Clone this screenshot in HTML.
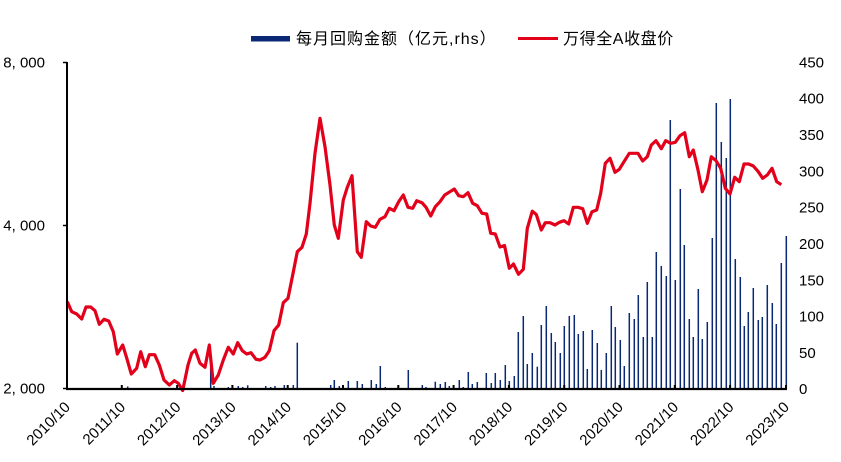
<!DOCTYPE html>
<html><head><meta charset="utf-8"><style>
html,body{margin:0;padding:0;background:#fff;}
svg{display:block;}
text{font-family:"Liberation Sans",Arial,sans-serif;font-size:15px;fill:#000;}
.lg{font-family:"Liberation Sans","Noto Sans CJK SC",sans-serif;font-size:16px;}
</style></head><body>
<svg width="841" height="462" viewBox="0 0 841 462" xmlns="http://www.w3.org/2000/svg">
<rect width="841" height="462" fill="#fff"/>
<rect x="251" y="36" width="39" height="5.5" fill="#0a2874"/>
<text class="lg" x="296" y="44" letter-spacing="1">每月回购金额（亿元,rhs）</text>
<line x1="518" y1="38.5" x2="558" y2="38.5" stroke="#e2001a" stroke-width="3"/>
<text class="lg" x="563" y="44" letter-spacing="0.6">万得全A收盘价</text>
<g stroke="#0a2874" stroke-width="1.5">
<line x1="127.7" y1="388" x2="127.7" y2="386.5"/>
<line x1="210.7" y1="388" x2="210.7" y2="356"/>
<line x1="214" y1="388" x2="214" y2="386"/>
<line x1="228.3" y1="388" x2="228.3" y2="387"/>
<line x1="238.3" y1="388" x2="238.3" y2="386"/>
<line x1="242.7" y1="388" x2="242.7" y2="387"/>
<line x1="247.7" y1="388" x2="247.7" y2="385.3"/>
<line x1="265.7" y1="388" x2="265.7" y2="386"/>
<line x1="270.7" y1="388" x2="270.7" y2="387"/>
<line x1="275" y1="388" x2="275" y2="386"/>
<line x1="284.3" y1="388" x2="284.3" y2="385"/>
<line x1="293.3" y1="388" x2="293.3" y2="385"/>
<line x1="297.3" y1="388" x2="297.3" y2="342.7"/>
<line x1="330.7" y1="388" x2="330.7" y2="385"/>
<line x1="334.3" y1="388" x2="334.3" y2="380"/>
<line x1="339.3" y1="388" x2="339.3" y2="386"/>
<line x1="348.3" y1="388" x2="348.3" y2="381"/>
<line x1="357.3" y1="388" x2="357.3" y2="381"/>
<line x1="362.3" y1="388" x2="362.3" y2="384"/>
<line x1="371.3" y1="388" x2="371.3" y2="380"/>
<line x1="376.3" y1="388" x2="376.3" y2="384"/>
<line x1="380.3" y1="388" x2="380.3" y2="366"/>
<line x1="385.3" y1="388" x2="385.3" y2="387"/>
<line x1="408.3" y1="388" x2="408.3" y2="370"/>
<line x1="422.3" y1="388" x2="422.3" y2="385"/>
<line x1="426" y1="388" x2="426" y2="387"/>
<line x1="435.3" y1="388" x2="435.3" y2="381.7"/>
<line x1="440.3" y1="388" x2="440.3" y2="384"/>
<line x1="445.3" y1="388" x2="445.3" y2="382"/>
<line x1="449.3" y1="388" x2="449.3" y2="386"/>
<line x1="459.3" y1="388" x2="459.3" y2="380"/>
<line x1="463.3" y1="388" x2="463.3" y2="387"/>
<line x1="468.3" y1="388" x2="468.3" y2="372"/>
<line x1="472.3" y1="388" x2="472.3" y2="384"/>
<line x1="477.3" y1="388" x2="477.3" y2="382"/>
<line x1="486.3" y1="388" x2="486.3" y2="373"/>
<line x1="491.3" y1="388" x2="491.3" y2="383"/>
<line x1="495.3" y1="388" x2="495.3" y2="373"/>
<line x1="500.3" y1="388" x2="500.3" y2="380"/>
<line x1="505.3" y1="388" x2="505.3" y2="365"/>
<line x1="509.3" y1="388" x2="509.3" y2="381"/>
<line x1="514.3" y1="388" x2="514.3" y2="376"/>
<line x1="518.3" y1="388" x2="518.3" y2="332"/>
<line x1="523.3" y1="388" x2="523.3" y2="316"/>
<line x1="527.3" y1="388" x2="527.3" y2="364"/>
<line x1="532.3" y1="388" x2="532.3" y2="353"/>
<line x1="537.3" y1="388" x2="537.3" y2="366.7"/>
<line x1="541.3" y1="388" x2="541.3" y2="325"/>
<line x1="546.3" y1="388" x2="546.3" y2="306"/>
<line x1="551.3" y1="388" x2="551.3" y2="333"/>
<line x1="555.3" y1="388" x2="555.3" y2="342"/>
<line x1="560.3" y1="388" x2="560.3" y2="353"/>
<line x1="564.3" y1="388" x2="564.3" y2="326"/>
<line x1="569.3" y1="388" x2="569.3" y2="316"/>
<line x1="574.3" y1="388" x2="574.3" y2="315"/>
<line x1="578.3" y1="388" x2="578.3" y2="334"/>
<line x1="583.3" y1="388" x2="583.3" y2="331"/>
<line x1="587.3" y1="388" x2="587.3" y2="369"/>
<line x1="592.3" y1="388" x2="592.3" y2="330"/>
<line x1="597.3" y1="388" x2="597.3" y2="343"/>
<line x1="601.3" y1="388" x2="601.3" y2="370"/>
<line x1="606.3" y1="388" x2="606.3" y2="353"/>
<line x1="611.3" y1="388" x2="611.3" y2="306"/>
<line x1="615.3" y1="388" x2="615.3" y2="327"/>
<line x1="620.3" y1="388" x2="620.3" y2="340"/>
<line x1="624.3" y1="388" x2="624.3" y2="366"/>
<line x1="629.3" y1="388" x2="629.3" y2="313"/>
<line x1="634.3" y1="388" x2="634.3" y2="319"/>
<line x1="638.3" y1="388" x2="638.3" y2="295"/>
<line x1="643.3" y1="388" x2="643.3" y2="337"/>
<line x1="647.3" y1="388" x2="647.3" y2="282"/>
<line x1="652.3" y1="388" x2="652.3" y2="337"/>
<line x1="656.3" y1="388" x2="656.3" y2="252"/>
<line x1="661.3" y1="388" x2="661.3" y2="266"/>
<line x1="666.3" y1="388" x2="666.3" y2="276"/>
<line x1="670.3" y1="388" x2="670.3" y2="120"/>
<line x1="675.3" y1="388" x2="675.3" y2="280"/>
<line x1="680.3" y1="388" x2="680.3" y2="189"/>
<line x1="684.3" y1="388" x2="684.3" y2="245"/>
<line x1="689.3" y1="388" x2="689.3" y2="319"/>
<line x1="693.3" y1="388" x2="693.3" y2="337"/>
<line x1="698.3" y1="388" x2="698.3" y2="289"/>
<line x1="702.3" y1="388" x2="702.3" y2="339"/>
<line x1="707.3" y1="388" x2="707.3" y2="322"/>
<line x1="712.3" y1="388" x2="712.3" y2="238"/>
<line x1="716.3" y1="388" x2="716.3" y2="103"/>
<line x1="721.3" y1="388" x2="721.3" y2="142"/>
<line x1="726.3" y1="388" x2="726.3" y2="158"/>
<line x1="730.3" y1="388" x2="730.3" y2="99"/>
<line x1="735.3" y1="388" x2="735.3" y2="259"/>
<line x1="740.3" y1="388" x2="740.3" y2="277"/>
<line x1="744.3" y1="388" x2="744.3" y2="326"/>
<line x1="748.3" y1="388" x2="748.3" y2="312"/>
<line x1="753.3" y1="388" x2="753.3" y2="288"/>
<line x1="758.3" y1="388" x2="758.3" y2="320"/>
<line x1="762.3" y1="388" x2="762.3" y2="317"/>
<line x1="767.3" y1="388" x2="767.3" y2="285"/>
<line x1="772.3" y1="388" x2="772.3" y2="303"/>
<line x1="776.3" y1="388" x2="776.3" y2="324"/>
<line x1="781.3" y1="388" x2="781.3" y2="263"/>
<line x1="786.3" y1="388" x2="786.3" y2="236"/>
</g>
<polyline fill="none" stroke="#e2001a" stroke-width="3.2" stroke-linejoin="round" points="67.3,301.7 71.7,311.7 76.7,314 81.7,319 86,307 90.7,307 95,310.7 99.3,324.3 104,319.3 108.7,321 113.3,331.7 117.3,354 122.7,345 126.7,358 131.3,374 136.7,368.3 140.7,351.7 145.3,366.7 149.3,354.7 154.7,354.7 159.3,365 164,380 169.3,385 174.3,380.7 178.3,383.3 182.7,390.5 188,365 191.7,353.3 195.3,350 200,363.3 205,367.3 209.3,345 213.3,383.3 218.3,375 223.3,360 228.3,347.3 233.3,354 237.7,342.7 242.3,350.7 246.7,354 251,352.7 256,359.3 260,360 265,357.3 269.3,350.7 274,330.7 278.7,325 283.3,302.7 288,298.3 292.7,275 297.3,251.7 302,247.3 306.3,234 310,203.3 315,153.3 320,118.3 325,146.7 330,185 334.3,225 338.3,238.3 343.3,200 347.3,187.3 352,175.7 357.3,251.7 361.3,257.3 366.3,221.7 370.7,226 375.3,227.3 380,219.3 385,216.7 389.3,208.3 394,210.7 398.7,201.7 403.3,195 408,207.3 412.7,208.3 416.7,200.7 422,202.7 426,207.3 430.7,216 435.3,206.7 440,201.7 444.7,195 450,191.7 454.3,189 458.7,195.7 463.3,196.7 468,192.7 472.7,203.3 477.3,205.7 482,213.3 486.7,214 490.7,233.3 495.3,234 500,247 504.5,245.5 509.3,268.3 513.5,264 518.5,274.3 523.3,269.3 527.3,228.3 532.3,211.2 536.3,214.5 541.3,230 545.3,222.7 550,222.7 555,225 559.3,222.3 564,220.7 568.7,224 573.3,207.3 578,207.3 582.7,208.7 587.3,223.3 592,211.7 596.7,210 600.7,193.3 605.3,163.3 610,158.3 615,172.3 619.3,169.3 624,161.7 629.3,153.3 634,153.3 638,153.3 642.7,161 647.3,156.7 651.3,145 656,140.7 661.3,148.7 665.7,140.7 670.7,143.3 675.3,142.3 680,135.7 684.7,132.7 689.3,156.7 693.3,150 698,170 702.3,191.7 707,180 711.3,156.7 716,160.7 720.7,168.3 725.3,188.3 730,194 734.7,177.3 739.3,181.7 744,164 748.7,164 753.3,166 758,171.3 762.7,178.3 767.3,175 772,168.3 776.7,181.7 781.3,184.7"/>
<line x1="67" y1="62" x2="67" y2="390" stroke="#000" stroke-width="2"/>
<line x1="66" y1="389" x2="787" y2="389" stroke="#000" stroke-width="2.2"/>
<g stroke="#000" stroke-width="1.5">
<line x1="63" y1="62.5" x2="67" y2="62.5"/>
<line x1="63" y1="225.5" x2="67" y2="225.5"/>
<line x1="63" y1="388.5" x2="67" y2="388.5"/>
</g>
<g stroke="#000" stroke-width="2">
<line x1="121.8" y1="385" x2="121.8" y2="389"/>
<line x1="177.1" y1="385" x2="177.1" y2="389"/>
<line x1="232.4" y1="385" x2="232.4" y2="389"/>
<line x1="287.7" y1="385" x2="287.7" y2="389"/>
<line x1="343" y1="385" x2="343" y2="389"/>
<line x1="398.3" y1="385" x2="398.3" y2="389"/>
<line x1="453.6" y1="385" x2="453.6" y2="389"/>
<line x1="508.9" y1="385" x2="508.9" y2="389"/>
<line x1="564.2" y1="385" x2="564.2" y2="389"/>
<line x1="619.5" y1="385" x2="619.5" y2="389"/>
<line x1="674.8" y1="385" x2="674.8" y2="389"/>
<line x1="730.1" y1="385" x2="730.1" y2="389"/>
<line x1="786" y1="385" x2="786" y2="389"/>
</g>
<g text-anchor="end">
<text x="45" y="67.5">8, 000</text>
<text x="45" y="230.5">4, 000</text>
<text x="45" y="393.7">2, 000</text>
</g>
<g>
<text x="799" y="67.4">450</text>
<text x="799" y="103.7">400</text>
<text x="799" y="140.1">350</text>
<text x="799" y="176.4">300</text>
<text x="799" y="212.7">250</text>
<text x="799" y="249.0">200</text>
<text x="799" y="285.4">150</text>
<text x="799" y="321.7">100</text>
<text x="799" y="358.0">50</text>
<text x="799" y="394.0">0</text>
</g>
<g text-anchor="end">
<text transform="translate(71,408) rotate(-45)">2010/10</text>
<text transform="translate(126.3,408) rotate(-45)">2011/10</text>
<text transform="translate(181.6,408) rotate(-45)">2012/10</text>
<text transform="translate(236.9,408) rotate(-45)">2013/10</text>
<text transform="translate(292.2,408) rotate(-45)">2014/10</text>
<text transform="translate(347.5,408) rotate(-45)">2015/10</text>
<text transform="translate(402.8,408) rotate(-45)">2016/10</text>
<text transform="translate(458.1,408) rotate(-45)">2017/10</text>
<text transform="translate(513.4,408) rotate(-45)">2018/10</text>
<text transform="translate(568.7,408) rotate(-45)">2019/10</text>
<text transform="translate(624,408) rotate(-45)">2020/10</text>
<text transform="translate(679.3,408) rotate(-45)">2021/10</text>
<text transform="translate(734.6,408) rotate(-45)">2022/10</text>
<text transform="translate(790,408) rotate(-45)">2023/10</text>
</g>
</svg>
</body></html>
